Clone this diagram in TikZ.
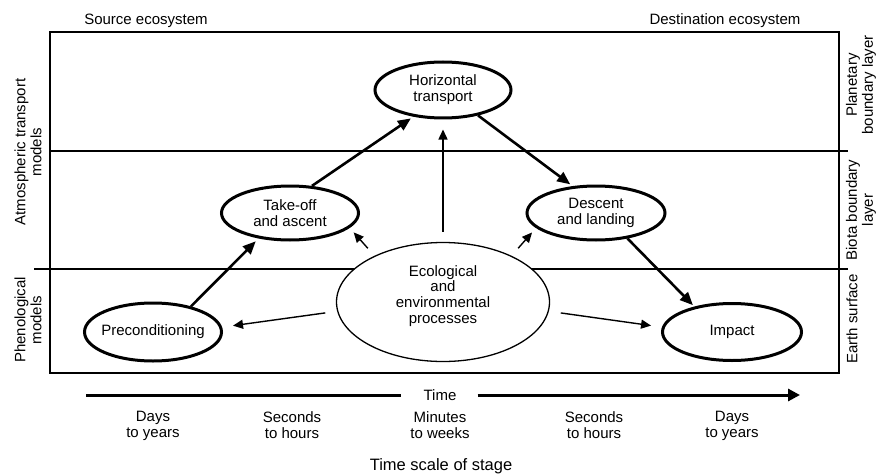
\documentclass[tikz,border=0pt]{standalone}
\usepackage{fontspec}
\setmainfont{Liberation Sans}
\usetikzlibrary{shapes.geometric,arrows.meta}
\begin{document}
\begin{tikzpicture}[x=1pt,y=-1pt,
  txt/.style={font=\fontsize{15}{15.8}\selectfont, align=center, inner sep=0pt},
  stage/.style={ellipse, draw, line width=3pt, inner sep=0pt, fill=white},
  thickarrow/.style={line width=2.6pt, -{Triangle[length=13pt,width=11pt]}},
  thinarrow/.style={line width=1.4pt, -{Triangle[length=10pt,width=9pt]}},
  layerline/.style={line width=1.2pt},
]
\useasboundingbox (0,0) rectangle (880,476);
% frame and layer lines
\draw[line width=1.8pt] (50,32) rectangle (839,373);
\draw[layerline] (50,151) -- (848,151);
\draw[layerline] (34,269) -- (848,269);
% headings
\node[txt] (src) at (146,21) {Source ecosystem};
\node[txt] (dst) at (725,21) {Destination ecosystem};
\node[txt, rotate=90] (atm) at (28,152) {Atmospheric transport\\models};
\node[txt, rotate=90] (phen) at (28,320) {Phenological\\models};
\node[txt, rotate=90] (pbl) at (861,85) {Planetary\\boundary layer};
\node[txt, rotate=90] (bbl) at (861,210) {Biota boundary\\layer};
\node[txt, rotate=90] (es) at (852,319) {Earth surface};
% stages
\node[stage, minimum width=136pt, minimum height=56pt, label={[txt]center:{Horizontal\\transport}}] (hor) at (443,90) {};
\node[stage, minimum width=137pt, minimum height=54pt, label={[txt]center:{Take-off\\and ascent}}] (take) at (290,213) {};
\node[stage, minimum width=138pt, minimum height=54pt, label={[txt]center:{Descent\\and landing}}] (desc) at (596,213) {};
\node[stage, minimum width=137pt, minimum height=58pt, label={[txt]center:{Preconditioning}}] (prec) at (153,332) {};
\node[stage, minimum width=139pt, minimum height=57pt, label={[txt]center:{Impact}}] (imp) at (732,332) {};
\node[ellipse, draw, line width=1.3pt, fill=white, minimum width=213pt, minimum height=119pt, inner sep=0pt] (eco) at (443,302) {};
\node[txt] (ecotext) at (443,296) {Ecological\\and\\environmental\\processes};
% thick arrows
\draw[thickarrow, shorten >=4pt] (prec.34) -- (take.219);
\draw[thickarrow, shorten >=3pt] (take.51) -- (hor.222);
\draw[thickarrow, shorten >=3pt] (hor.324) -- (desc.131);
\draw[thickarrow, shorten >=2pt] (desc.321) -- (imp.146);
% thin arrows
\draw[thinarrow, shorten <=10pt, shorten >=10pt] (eco.north) -- (hor.south);
\draw[thinarrow, shorten <=10pt, shorten >=6pt] (eco.146) -- (take.-14);
\draw[thinarrow, shorten <=10pt, shorten >=6pt] (eco.34) -- (desc.194);
\draw[thinarrow, shorten <=12pt, shorten >=11pt] (eco.185) -- (prec.4);
\draw[thinarrow, shorten <=12pt, shorten >=11pt] (eco.-5) -- (imp.176);
% time axis
\node[txt] (time) at (440,395) {Time};
\coordinate (tstart) at (86,395);
\coordinate (tend) at (800,395);
\draw[line width=3pt, shorten >=22pt] (tstart) -- (time.west);
\draw[line width=3pt, shorten <=21pt, -{Triangle[length=12pt,width=12pt]}] (time.east) -- (tend);
\node[txt] (t1) at (153,425.5) {Days\\to years};
\node[txt] (t2) at (292,425.5) {Seconds\\to hours};
\node[txt] (t3) at (440,425.5) {Minutes\\to weeks};
\node[txt] (t4) at (594,425.5) {Seconds\\to hours};
\node[txt] (t5) at (732,425.5) {Days\\to years};
\node[font=\fontsize{16.5}{18}\selectfont, inner sep=0pt] (tsl) at (441,466) {Time scale of stage};
\end{tikzpicture}
\end{document}
